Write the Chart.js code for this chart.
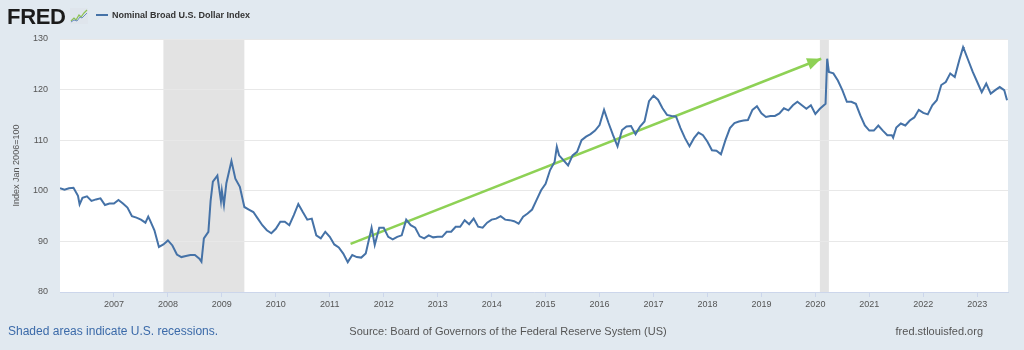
<!DOCTYPE html>
<html>
<head>
<meta charset="utf-8">
<script src="https://cdn.jsdelivr.net/npm/chart.js@4.4.0/dist/chart.umd.min.js"></script>
<style>
  html, body { margin: 0; padding: 0; background: #e1e9f0; }
  #wrap { position: relative; width: 1024px; height: 350px; font-family: "Liberation Sans", Arial, sans-serif; }
  #chart { position: absolute; left: 0; top: 0; }
  #logo { position: absolute; left: 7px; top: 6px; font-size: 22px; line-height: 22px; font-weight: bold; color: #1b1b1b; letter-spacing: -0.3px; }
  #icon { position: absolute; left: 70px; top: 8px; }
  #legend { position: absolute; left: 96px; top: 10px; font-size: 9px; line-height: 10px; font-weight: bold; color: #333; white-space: nowrap; }
  #legend i { display: inline-block; width: 12px; height: 2px; background: #4572a7; vertical-align: middle; margin-right: 4px; position: relative; top: -1px; }
  .foot { position: absolute; top: 326px; font-size: 11px; line-height: 11px; white-space: nowrap; }
  #recess { left: 8px; top: 325px; font-size: 12px; line-height: 12px; color: #3b6aa9; }
  #source { left: 508px; transform: translateX(-50%); color: #555; }
  #site { right: 41px; color: #555; }
</style>
</head>
<body>
<div id="wrap">
  <canvas id="chart" width="1024" height="350"></canvas>
  <div id="logo">FRED</div>
  <svg id="icon" width="18" height="16" viewBox="0 0 18 16">
    <rect x="0" y="0" width="18" height="16" fill="#dfe5ec"/>
    <polyline points="1,13 4,10 6,12 9,7 11,9 14,5 17,2" fill="none" stroke="#8cc152" stroke-width="1.2"/>
    <polyline points="1,14 4,12 7,13 10,9 12,10 15,7 17,5" fill="none" stroke="#6d8fbf" stroke-width="1"/>
  </svg>
  <div id="legend"><i></i>Nominal Broad U.S. Dollar Index</div>
  <div class="foot" id="recess">Shaded areas indicate U.S. recessions.</div>
  <div class="foot" id="source">Source: Board of Governors of the Federal Reserve System (US)</div>
  <div class="foot" id="site">fred.stlouisfed.org</div>
</div>
<script>
// observation dates (monthly, plus a few intra-month turning points)
const dates = [
  '2006-01-01','2006-02-01','2006-03-01','2006-04-01','2006-05-01','2006-05-12','2006-06-01','2006-07-01','2006-08-01','2006-09-01','2006-10-01','2006-11-01','2006-12-01',
  '2007-01-01','2007-02-01','2007-03-01','2007-04-01','2007-05-01','2007-06-01','2007-07-01','2007-08-01','2007-08-20','2007-09-01','2007-10-01','2007-11-01','2007-12-01',
  '2008-01-01','2008-02-01','2008-03-01','2008-04-01','2008-05-01','2008-06-01','2008-07-01','2008-08-01','2008-08-15','2008-09-01','2008-10-01','2008-10-16','2008-11-01','2008-12-01','2008-12-25',
  '2009-01-01','2009-01-15','2009-02-01','2009-03-05','2009-04-01','2009-05-01','2009-06-01','2009-07-01','2009-08-01','2009-09-01','2009-10-01','2009-11-01','2009-12-01',
  '2010-01-01','2010-02-01','2010-03-01','2010-04-01','2010-05-01','2010-06-01','2010-07-01','2010-08-01','2010-09-01','2010-10-01','2010-11-01','2010-12-01',
  '2011-01-01','2011-02-01','2011-03-01','2011-04-01','2011-05-01','2011-06-01','2011-07-01','2011-08-01','2011-09-01','2011-10-01','2011-10-10','2011-11-01','2011-12-01',
  '2012-01-01','2012-02-01','2012-03-01','2012-04-01','2012-05-01','2012-06-01','2012-07-01','2012-08-01','2012-09-01','2012-10-01','2012-11-01','2012-12-01',
  '2013-01-01','2013-02-01','2013-03-01','2013-04-01','2013-05-01','2013-06-01','2013-07-01','2013-08-01','2013-09-01','2013-10-01','2013-11-01','2013-12-01',
  '2014-01-01','2014-02-01','2014-03-01','2014-04-01','2014-05-01','2014-06-01','2014-07-01','2014-08-01','2014-09-01','2014-10-01','2014-11-01','2014-12-01',
  '2015-01-01','2015-02-01','2015-03-01','2015-03-16','2015-04-01','2015-05-01','2015-06-01','2015-07-01','2015-08-01','2015-09-01','2015-10-01','2015-11-01','2015-12-01',
  '2016-01-01','2016-02-01','2016-03-01','2016-04-01','2016-05-01','2016-06-01','2016-07-01','2016-08-01','2016-09-01','2016-10-01','2016-11-01','2016-12-01',
  '2017-01-01','2017-02-01','2017-03-01','2017-04-01','2017-05-01','2017-06-01','2017-07-01','2017-08-01','2017-09-01','2017-10-01','2017-11-01','2017-12-01',
  '2018-01-01','2018-02-01','2018-03-01','2018-04-01','2018-05-01','2018-06-01','2018-07-01','2018-08-01','2018-09-01','2018-10-01','2018-11-01','2018-12-01',
  '2019-01-01','2019-02-01','2019-03-01','2019-04-01','2019-05-01','2019-06-01','2019-07-01','2019-08-01','2019-09-01','2019-10-01','2019-11-01','2019-12-01',
  '2020-01-01','2020-02-01','2020-03-09','2020-03-20','2020-04-01','2020-05-01','2020-06-01','2020-07-01','2020-08-01','2020-09-01','2020-10-01','2020-11-01','2020-12-01',
  '2021-01-01','2021-02-01','2021-03-01','2021-04-01','2021-05-01','2021-06-01','2021-06-10','2021-07-01','2021-08-01','2021-09-01','2021-10-01','2021-11-01','2021-12-01',
  '2022-01-01','2022-02-01','2022-03-01','2022-04-01','2022-05-01','2022-06-01','2022-07-01','2022-08-01','2022-09-01','2022-09-27','2022-10-01','2022-11-01','2022-12-01',
  '2023-01-01','2023-02-01','2023-03-01','2023-04-01','2023-05-01','2023-06-01','2023-07-01','2023-07-20'
];

// Nominal Broad U.S. Dollar Index, Jan 2006 = 100
const dollarIndex = [
  100.5, 100.2, 100.5, 100.6, 99.0, 97.3, 98.6, 98.9, 98.0, 98.3, 98.5, 97.2, 97.5,
  97.5, 98.2, 97.5, 96.7, 95.0, 94.7, 94.3, 93.7, 94.9, 94.2, 92.2, 88.9, 89.4,
  90.2, 89.2, 87.4, 86.9, 87.1, 87.3, 87.3, 86.6, 86.0, 90.6, 91.9, 98.0, 101.8, 103.0, 98.0,
  100.0, 97.2, 101.5, 105.9, 102.4, 100.8, 96.8, 96.3, 95.8, 94.5, 93.2, 92.2, 91.6,
  92.5, 93.9, 93.9, 93.2, 95.2, 97.4, 95.8, 94.3, 94.5, 91.2, 90.6, 91.9,
  90.9, 89.4, 88.8, 87.6, 85.9, 87.3, 86.9, 86.8, 87.6, 91.5, 92.7, 89.3, 92.7,
  92.7, 90.9, 90.4, 90.9, 91.2, 94.3, 93.2, 92.7, 91.0, 90.6, 91.2, 90.8,
  90.9, 90.9, 91.9, 91.9, 92.9, 92.9, 94.2, 93.4, 94.5, 92.9, 92.7, 93.7,
  94.3, 94.5, 95.0, 94.3, 94.2, 94.0, 93.5, 94.9, 95.5, 96.3, 98.2, 100.1,
  101.4, 104.1, 105.7, 108.7, 107.0, 106.0, 105.0, 107.0, 107.7, 110.0, 110.7, 111.2, 111.9,
  113.0, 116.0, 113.4, 111.0, 108.8, 112.0, 112.7, 112.8, 111.2, 112.7, 113.7, 117.7,
  118.8, 118.0, 116.3, 115.0, 114.8, 114.7, 112.4, 110.4, 108.8, 110.4, 111.5, 111.0,
  109.7, 108.0, 107.9, 107.2, 110.0, 112.4, 113.4, 113.7, 113.9, 114.0, 116.0, 116.7,
  115.3, 114.6, 114.8, 114.8, 115.3, 116.3, 115.9, 116.9, 117.6, 116.9, 116.2, 116.9,
  115.2, 116.2, 117.2, 126.1, 123.5, 123.2, 121.8, 119.9, 117.6, 117.6, 117.2, 114.9, 112.9,
  111.9, 111.9, 112.9, 111.9, 111.0, 111.0, 110.5, 112.5, 113.3, 112.9, 113.9, 114.5, 116.0,
  115.4, 115.1, 116.9, 117.9, 120.9, 121.5, 123.2, 122.5, 125.8, 128.4, 128.1, 125.8, 123.5,
  121.5, 119.5, 121.2, 119.2, 119.9, 120.5, 119.9, 117.9
];

const yearTicks = [2007, 2008, 2009, 2010, 2011, 2012, 2013, 2014, 2015, 2016, 2017, 2018, 2019, 2020, 2021, 2022, 2023];
const valueTicks = [80, 90, 100, 110, 120, 130];
const recessions = [['2007-12-01', '2009-06-01'], ['2020-02-01', '2020-04-01']];
// hand-drawn trend arrow: [date, value] at tail and head
const arrowTail = ['2011-05-20', 89.5];
const arrowHead = ['2020-02-10', 126.1];

function toYear(s) {
  const [y, m, d] = s.split('-').map(Number);
  return y + (m - 1) / 12 + ((d || 1) - 1) / 365;
}

const lineColor = '#4572a7';
const arrowColor = '#8ed155';

const backdrop = {
  id: 'backdrop',
  beforeDraw(chart) {
    const { ctx, chartArea: a, scales: { x } } = chart;
    ctx.save();
    ctx.fillStyle = '#ffffff';
    ctx.fillRect(a.left, a.top, a.right - a.left, a.bottom - a.top);
    ctx.fillStyle = '#e3e3e3';
    recessions.forEach(([s, e]) => {
      const x0 = x.getPixelForValue(toYear(s));
      const x1 = x.getPixelForValue(toYear(e));
      ctx.fillRect(x0, a.top, x1 - x0, a.bottom - a.top);
    });
    ctx.restore();
  }
};

const arrowTip = {
  id: 'arrowTip',
  afterDatasetsDraw(chart) {
    const pts = chart.getDatasetMeta(1).data;
    if (pts.length < 2) return;
    const p0 = pts[0], p1 = pts[1];
    const ang = Math.atan2(p1.y - p0.y, p1.x - p0.x);
    const len = 14, half = 6;
    const { ctx } = chart;
    ctx.save();
    ctx.translate(p1.x, p1.y);
    ctx.rotate(ang);
    ctx.beginPath();
    ctx.moveTo(0, 0);
    ctx.lineTo(-len, -half);
    ctx.lineTo(-len, half);
    ctx.closePath();
    ctx.fillStyle = arrowColor;
    ctx.fill();
    ctx.restore();
  }
};

new Chart(document.getElementById('chart'), {
  type: 'line',
  data: {
    datasets: [
      {
        data: dates.map((d, i) => ({ x: toYear(d), y: dollarIndex[i] })),
        borderColor: lineColor,
        borderWidth: 2,
        pointRadius: 0,
        tension: 0,
        fill: false
      },
      {
        data: [
          { x: toYear(arrowTail[0]), y: arrowTail[1] },
          { x: toYear(arrowHead[0]), y: arrowHead[1] }
        ],
        borderColor: arrowColor,
        borderWidth: 2.5,
        pointRadius: 0,
        fill: false
      }
    ]
  },
  options: {
    responsive: false,
    animation: false,
    layout: { padding: { top: 39, right: 16, bottom: 38, left: 0 } },
    plugins: {
      legend: { display: false },
      tooltip: { enabled: false }
    },
    scales: {
      x: {
        type: 'linear',
        min: 2006,
        max: 2023.57,
        afterBuildTicks: s => { s.ticks = yearTicks.map(v => ({ value: v })); },
        afterFit: s => { s.height = 20; },
        ticks: {
          callback: v => String(v),
          color: '#555',
          font: { family: '"Liberation Sans", Arial, sans-serif', size: 9 },
          maxRotation: 0,
          padding: 2
        },
        grid: { drawOnChartArea: false, drawTicks: true, tickLength: 5, color: '#ccd6eb' },
        border: { color: '#ccd6eb' }
      },
      y: {
        min: 80,
        max: 130,
        afterBuildTicks: s => { s.ticks = valueTicks.map(v => ({ value: v })); },
        afterFit: s => { s.width = 60; },
        ticks: {
          color: '#555',
          font: { family: '"Liberation Sans", Arial, sans-serif', size: 9 },
          padding: 12
        },
        grid: { color: '#e8e8e8', drawTicks: false },
        border: { display: false },
        title: {
          display: true,
          text: 'Index Jan 2006=100',
          color: '#555',
          font: { family: '"Liberation Sans", Arial, sans-serif', size: 9 },
          padding: { top: 11 }
        }
      }
    }
  },
  plugins: [backdrop, arrowTip]
});
</script>
</body>
</html>
